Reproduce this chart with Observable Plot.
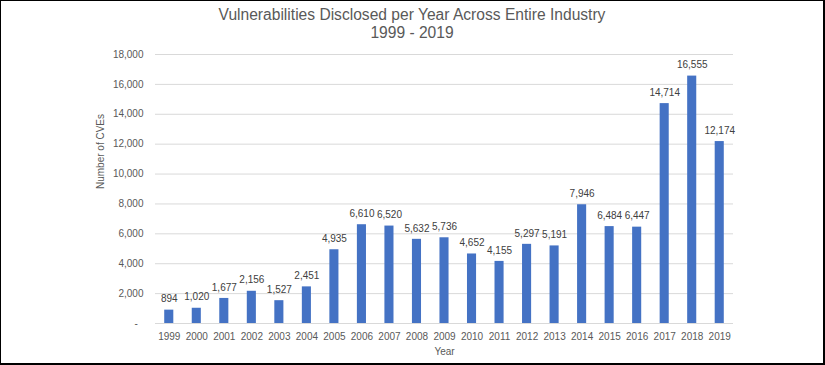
<!DOCTYPE html>
<html>
<head>
<meta charset="utf-8">
<script src="https://cdn.jsdelivr.net/npm/d3@7"></script>
<script src="https://cdn.jsdelivr.net/npm/@observablehq/plot@0.6"></script>
<style>
  html, body { margin: 0; padding: 0; background: #fff; }
  #frame {
    position: relative; width: 825px; height: 365px; box-sizing: border-box;
    border-left: 1px solid #000; border-top: 1px solid #000;
    border-right: 2px solid #000; border-bottom: 2px solid #000;
    background: #fff; overflow: hidden;
  }
  #title {
    position: absolute; left: 0; top: 5px; width: 100%; text-align: center;
    font-family: "Liberation Sans", Arial, sans-serif; font-size: 15.6px;
    line-height: 18px; color: #595959;
  }
  #chart { position: absolute; left: 0; top: 42px; }
</style>
</head>
<body>
<div id="frame">
  <div id="title"><div>Vulnerabilities Disclosed per Year Across Entire Industry</div><div>1999 - 2019</div></div>
  <div id="chart"></div>
</div>
<script>
const years = ["1999","2000","2001","2002","2003","2004","2005","2006","2007","2008","2009","2010","2011","2012","2013","2014","2015","2016","2017","2018","2019"];
const cves = [894,1020,1677,2156,1527,2451,4935,6610,6520,5632,5736,4652,4155,5297,5191,7946,6484,6447,14714,16555,12174];
const yTicks = [0,2000,4000,6000,8000,10000,12000,14000,16000,18000];
const xLabel = "Year";
const yLabel = "Number of CVEs";

const data = years.map((y, i) => ({year: y, value: cves[i]}));
const fmt = d3.format(",");
const textColor = "#595959";

const plot = Plot.plot({
  width: 822,
  height: 318,
  marginTop: 11,
  marginBottom: 38,
  marginLeft: 154,
  marginRight: 90,
  style: {fontFamily: "'Liberation Sans', Arial, sans-serif", fontSize: "10px", color: textColor, background: "transparent"},
  x: {domain: years, paddingInner: 0.67, paddingOuter: 0.335, round: false, label: null},
  y: {domain: [0, 18000], label: null},
  marks: [
    Plot.gridY(yTicks, {stroke: "#d9d9d9", strokeOpacity: 1, strokeWidth: 1}),
    Plot.axisY(yTicks, {tickSize: 0, tickPadding: 12, tickFormat: d => d === 0 ? "-\u2007" : fmt(d), fill: textColor, label: null}),
    Plot.axisX({tickSize: 0, tickPadding: 9, fill: textColor, label: null}),
    Plot.barY(data, {x: "year", y: "value", fill: "#4472C4"}),
    Plot.text(data, {x: "year", y: "value", text: d => fmt(d.value), dy: -11, fill: "#404040", fontSize: 10}),
    Plot.text([xLabel], {frameAnchor: "bottom", dy: 31, text: d => d, fill: textColor, fontSize: 10}),
    Plot.text([yLabel], {frameAnchor: "left", dx: -55, rotate: -90, text: d => d, fill: textColor, fontSize: 10})
  ]
});
document.getElementById("chart").appendChild(plot);
</script>
</body>
</html>
